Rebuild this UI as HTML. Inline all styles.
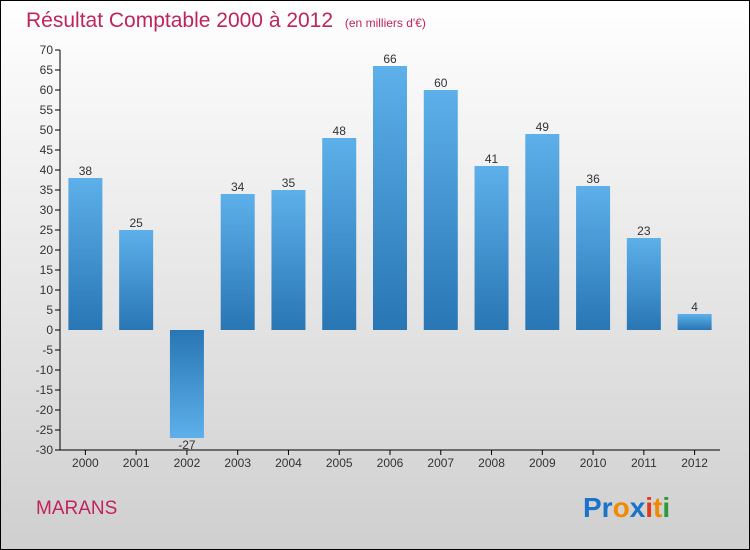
<!DOCTYPE html>
<html><head><meta charset="utf-8"><style>
body{margin:0;width:750px;height:550px;overflow:hidden}
svg{display:block;font-family:"Liberation Sans",sans-serif}
</style></head><body>
<svg id="c" width="750" height="550">
<defs>
<linearGradient id="bg" x1="0" y1="0" x2="0" y2="1"><stop offset="0" stop-color="#ffffff"/><stop offset="1" stop-color="#cfcfcf"/></linearGradient>
<linearGradient id="gp" x1="0" y1="0" x2="0" y2="1"><stop offset="0" stop-color="#5db0ea"/><stop offset="1" stop-color="#2876b4"/></linearGradient>
<linearGradient id="gn" x1="0" y1="0" x2="0" y2="1"><stop offset="0" stop-color="#2876b4"/><stop offset="1" stop-color="#5db0ea"/></linearGradient>
</defs>
<rect x="0.5" y="0.5" width="749" height="549" fill="url(#bg)" stroke="#000"/>
<text x="26" y="27" font-size="21" fill="#c0245c">Résultat Comptable 2000 à 2012 <tspan font-size="12" dx="6">(en milliers d'€)</tspan></text>
<text x="36" y="514" font-size="19" fill="#c0245c">MARANS</text>
<text x="583" y="517" font-size="28" font-weight="bold"><tspan fill="#1a73c8">Pr</tspan><tspan fill="#f08a00">o</tspan><tspan fill="#1a73c8">x</tspan><tspan fill="#e03a1a">i</tspan><tspan fill="#f08a00">t</tspan><tspan fill="#2a9a3a">i</tspan></text>
<g id="g"></g>
</svg>
<script>
const categories=["2000","2001","2002","2003","2004","2005","2006","2007","2008","2009","2010","2011","2012"];
const values=[38,25,-27,34,35,48,66,60,41,49,36,23,4];
const yTicks=[-30,-25,-20,-15,-10,-5,0,5,10,15,20,25,30,35,40,45,50,55,60,65,70];
const NS="http://www.w3.org/2000/svg";
const g=document.getElementById('g');
const y=v=>330-v*4;
const step=660/13;
const x=i=>60+step*(i+0.5);
function mk(t,a,p){const e=document.createElementNS(NS,t);for(const k in a)e.setAttribute(k,a[k]);(p||g).appendChild(e);return e;}
let ax=mk('line',{x1:60,y1:50,x2:60,y2:450,stroke:'#000'});


let xa=mk('line',{x1:60,y1:450,x2:720,y2:450,stroke:'#000'});


yTicks.forEach(v=>{
 let t=mk('line',{x1:55,y1:y(v),x2:60,y2:y(v),stroke:'#000'});
 
 
 let l=mk('text',{x:53,y:y(v)+4,'font-size':12,'text-anchor':'end',fill:'#333'});
 l.textContent=v;
 
 
});
categories.forEach((c,i)=>{
 const v=values[i];
 let tk=mk('line',{x1:x(i),y1:450,x2:x(i),y2:455,stroke:'#000'});
 
 
 let r=mk('rect',{x:x(i)-17,y:Math.min(y(v),y(0)),width:34,height:Math.abs(y(v)-y(0)),fill:v>=0?'url(#gp)':'url(#gn)'});
 
 
 let l=mk('text',{x:x(i),y:v>=0?y(v)-3:y(v)+11,'font-size':12,'text-anchor':'middle',fill:'#333'});
 l.textContent=v;
 
 
 let cl=mk('text',{x:x(i),y:467,'font-size':12,'text-anchor':'middle',fill:'#333'});
 cl.textContent=c;
 
 
});
</script>
</body></html>
